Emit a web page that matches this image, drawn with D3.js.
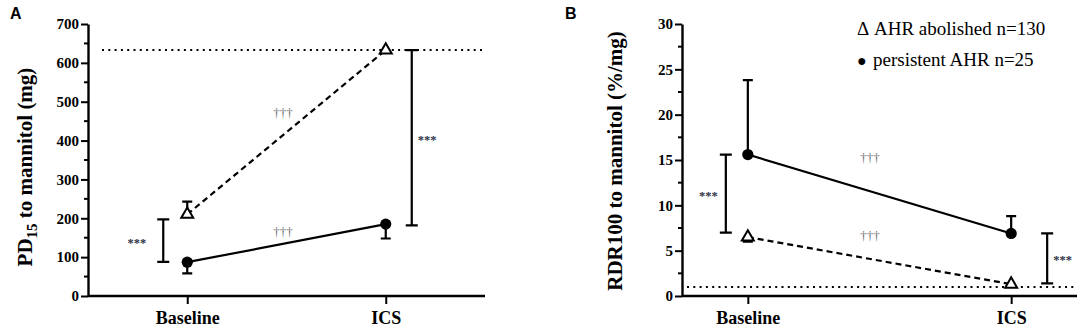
<!DOCTYPE html>
<html>
<head>
<meta charset="utf-8">
<script src="https://cdn.jsdelivr.net/npm/d3@7"></script>
<style>
  html, body { margin: 0; padding: 0; background: #fff; }
  svg { display: block; }
  .serif { font-family: "Liberation Serif", "Times New Roman", serif; }
  .sans { font-family: "Liberation Sans", Arial, sans-serif; }
</style>
</head>
<body>
<svg id="chart" width="1084" height="328"></svg>
<script>
// ---------- data ----------
const categories = ["Baseline", "ICS"];

// Panel A: PD15 to mannitol (mg)
const aTicks = [0, 100, 200, 300, 400, 500, 600, 700];
const aAbolished = [210, 633];
const aAbolishedErrHi = [243, null];
const aPersistent = [87, 185];
const aPersistentErrLo = [58, 148];
const aCeiling = 633;
const aSigLow = [88, 182];
const aSigHigh = [197, 633];

// Panel B: RDR100 to mannitol (%/mg)
const bTicks = [0, 5, 10, 15, 20, 25, 30];
const bAbolished = [6.5, 1.3];
const bAbolishedErrLo = [6.0, null];
const bPersistent = [15.6, 6.9];
const bPersistentErrHi = [23.8, 8.8];
const bFloor = 1.0;
const bSigLow = [7.0, 1.4];
const bSigHigh = [15.6, 6.9];

const legendSymbols = ["\u0394", "\u25CF"];
const legendLabels = ["AHR abolished n=130", "persistent AHR n=25"];

// ---------- drawing ----------
const svg = d3.select("#chart");

function panel(cfg) {
  const g = svg.append("g");
  const x = d3.scalePoint().domain(categories).range(cfg.xRange).padding(cfg.pad);
  const y = d3.scaleLinear().domain(cfg.yDomain).range([296, 24]);
  const x0 = cfg.xRange[0], x1 = cfg.xRange[1];

  // minor ticks
  const minor = d3.range(cfg.yDomain[0], cfg.yDomain[1] + 1e-9, cfg.minorStep)
    .filter(v => !cfg.ticks.some(t => Math.abs(t - v) < 1e-9));
  g.selectAll("line.minor").data(minor).join("line")
    .attr("x1", x0 - 4).attr("x2", x0)
    .attr("y1", d => y(d)).attr("y2", d => y(d))
    .attr("stroke", "#000").attr("stroke-width", 2);

  // y axis
  const ya = d3.axisLeft(y).tickValues(cfg.ticks).tickSize(7).tickPadding(2).tickSizeOuter(0);
  const yg = g.append("g").attr("transform", `translate(${x0},0)`).call(ya);
  yg.attr("font-family", null).attr("font-size", null);
  yg.select(".domain").attr("stroke-width", 2.4);
  yg.selectAll(".tick line").attr("stroke-width", 2);
  yg.selectAll(".tick text").attr("class", "serif").style("font-weight", "bold")
    .style("font-size", "15px").attr("fill", "#000");

  // x axis
  const xa = d3.axisBottom(x).tickSize(8).tickPadding(4).tickSizeOuter(0);
  const xg = g.append("g").attr("transform", `translate(0,296)`).call(xa);
  xg.attr("font-family", null).attr("font-size", null);
  xg.select(".domain").attr("d", `M${x0},0H${x1}`).attr("stroke-width", 2.4);
  xg.selectAll(".tick line").attr("stroke-width", 2);
  xg.selectAll(".tick text").attr("class", "serif").style("font-weight", "bold")
    .style("font-size", "18px").attr("fill", "#000").attr("dy", "0.9em");

  // reference dotted line
  g.append("line")
    .attr("x1", cfg.dotStart).attr("x2", x1)
    .attr("y1", y(cfg.refLine)).attr("y2", y(cfg.refLine))
    .attr("stroke", "#000").attr("stroke-width", 2).attr("stroke-dasharray", "2,4.3");

  // y label
  const lab = g.append("text").attr("class", "serif")
    .attr("transform", `translate(${cfg.labelX},${cfg.labelY}) rotate(-90)`)
    .attr("text-anchor", "middle")
    .style("font-weight", "bold").style("font-size", "21px")
    .attr("fill", "#000");
  cfg.label(lab);

  // panel letter
  g.append("text").attr("class", "sans").attr("x", cfg.letterX).attr("y", 19)
    .style("font-weight", "bold").style("font-size", "16px")
    .text(cfg.letter);

  // significance brackets
  categories.forEach((c, i) => {
    const bx = x(c) + cfg.sigOffset[i];
    const yl = y(cfg.sigLow[i]), yh = y(cfg.sigHigh[i]);
    g.append("path")
      .attr("d", `M${bx - 6},${yh}H${bx + 6}M${bx},${yh}V${yl}M${bx - 6},${yl}H${bx + 6}`)
      .attr("fill", "none").attr("stroke", "#000").attr("stroke-width", 2.2);
    const sx = i === 0 ? bx - cfg.starGap[0] : bx + cfg.starGap[1];
    g.append("text").attr("class", "serif").attr("x", sx).attr("y", (yl + yh) / 2 + 6)
      .attr("text-anchor", i === 0 ? "end" : "start")
      .style("font-weight", "bold").style("font-size", "12.5px")
      .attr("fill", "#2d3246").text("***");
  });

  // error bars
  function errBars(means, ends) {
    categories.forEach((c, i) => {
      if (ends[i] == null) return;
      const cx = x(c);
      g.append("path")
        .attr("d", `M${cx},${y(means[i])}V${y(ends[i])}M${cx - 5},${y(ends[i])}H${cx + 5}`)
        .attr("fill", "none").attr("stroke", "#000").attr("stroke-width", 2.2);
    });
  }
  errBars(cfg.abol, cfg.abolErr);
  errBars(cfg.pers, cfg.persErr);

  // lines
  const line = d3.line().x((d, i) => x(categories[i])).y(d => y(d));
  g.append("path").datum(cfg.abol).attr("d", line)
    .attr("fill", "none").attr("stroke", "#000").attr("stroke-width", 2.2)
    .attr("stroke-dasharray", "6,4");
  g.append("path").datum(cfg.pers).attr("d", line)
    .attr("fill", "none").attr("stroke", "#000").attr("stroke-width", 2.2);

  // daggers
  cfg.daggers.forEach(dg => {
    g.append("text").attr("class", "serif").attr("x", dg[0]).attr("y", dg[1])
      .attr("text-anchor", "middle")
      .style("font-size", "13px").attr("fill", "#707070")
      .text("\u2020\u2020\u2020");
  });

  // symbols
  const tri = d3.symbol().type(d3.symbolTriangle).size(62);
  g.selectAll("path.tri").data(cfg.abol).join("path")
    .attr("transform", (d, i) => `translate(${x(categories[i])},${y(d)})`)
    .attr("d", tri).attr("fill", "#fff").attr("stroke", "#000").attr("stroke-width", 2);
  g.selectAll("circle.pt").data(cfg.pers).join("circle")
    .attr("cx", (d, i) => x(categories[i])).attr("cy", d => y(d))
    .attr("r", 5.6).attr("fill", "#000");
}

panel({
  xRange: [88, 485], pad: 0.5, yDomain: [0, 700], ticks: aTicks, minorStep: 50,
  refLine: aCeiling, dotStart: 102,
  labelX: 32, labelY: 167,
  label: t => {
    t.append("tspan").text("PD");
    t.append("tspan").style("font-size", "15px").attr("dy", 5).text("15");
    t.append("tspan").attr("dy", -5).text(" to mannitol (mg)");
  },
  letter: "A", letterX: 10,
  sigLow: aSigLow, sigHigh: aSigHigh, sigOffset: [-24, 26], starGap: [17, 6],
  abol: aAbolished, abolErr: aAbolishedErrHi,
  pers: aPersistent, persErr: aPersistentErrLo,
  daggers: [[283, 117], [283, 236]]
});

panel({
  xRange: [682, 1077], pad: 0.25, yDomain: [0, 30], ticks: bTicks, minorStep: 2.5,
  refLine: bFloor, dotStart: 687,
  labelX: 622, labelY: 161,
  label: t => t.text("RDR100 to mannitol (%/mg)"),
  letter: "B", letterX: 565,
  sigLow: bSigLow, sigHigh: bSigHigh, sigOffset: [-22, 36], starGap: [8, 6],
  abol: bAbolished, abolErr: bAbolishedErrLo,
  pers: bPersistent, persErr: bPersistentErrHi,
  daggers: [[870, 162], [870, 240]]
});

// legend
const leg = svg.selectAll("g.legend").data(legendLabels).join("g")
  .attr("class", "legend")
  .attr("transform", (d, i) => `translate(857,${35 + i * 31})`);
leg.append("text").attr("class", "serif")
  .attr("x", 0).attr("y", (d, i) => i === 0 ? 0 : 0)
  .style("font-size", (d, i) => i === 0 ? "19px" : "16px").attr("fill", "#000")
  .text((d, i) => legendSymbols[i]);
leg.append("text").attr("class", "serif")
  .attr("x", (d, i) => i === 0 ? 17 : 16).attr("y", 0)
  .style("font-size", "19px").attr("fill", "#000")
  .text(d => d);
</script>
</body>
</html>
